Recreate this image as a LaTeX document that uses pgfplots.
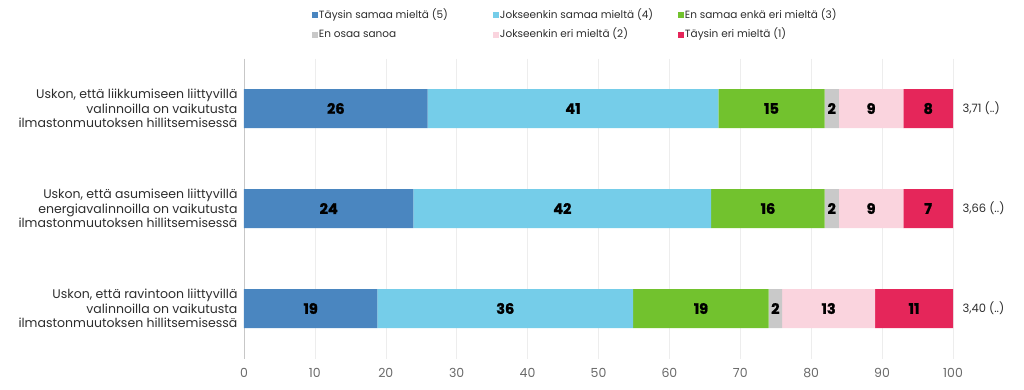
\documentclass[border=0pt]{standalone}
\usepackage{fontspec}
\setmainfont{Poppins}
\newfontfamily\heavy[FakeBold=1.2]{Poppins}
\usepackage{pgfplots}
\pgfplotsset{compat=1.18}
\usepackage{pgfplotstable}
\definecolor{cA}{RGB}{74,134,192}
\definecolor{cB}{RGB}{117,205,233}
\definecolor{cC}{RGB}{114,194,46}
\definecolor{cD}{RGB}{201,201,201}
\definecolor{cE}{RGB}{250,212,222}
\definecolor{cF}{RGB}{229,38,90}
\definecolor{txt}{RGB}{45,45,45}
\definecolor{tick}{RGB}{105,105,105}

% segment widths (share of respondents, %) and printed labels
\pgfplotstableread{
y  a     b     c     d    e     f     la lb lc ld le lf
0  25.9  41.0  15.0  2.0  9.1   7.0   26 41 15 2  9  8
1  23.9  42.0  16.0  2.0  9.1   7.0   24 42 16 2  9  7
2  18.8  36.1  19.1  1.9  13.1  11.0  19 36 19 2  13 11
}\datatable

\begin{document}
\begin{tikzpicture}
\useasboundingbox (-244pt,-30.5pt) rectangle (780pt,358.5pt);
\begin{axis}[
  at={(0pt,0pt)}, anchor=south west,
  scale only axis, width=709pt, height=300pt,
  xbar stacked, bar width=39pt,
  xmin=0, xmax=100, ymin=-0.5, ymax=2.5, y dir=reverse,
  xtick={0,10,...,100}, ytick={0,1,2},
  yticklabels={{Uskon, että liikkumiseen liittyvillä\\valinnoilla on vaikutusta\\ilmastonmuutoksen hillitsemisessä},
               {Uskon, että asumiseen liittyvillä\\energiavalinnoilla on vaikutusta\\ilmastonmuutoksen hillitsemisessä},
               {Uskon, että ravintoon liittyvillä\\valinnoilla on vaikutusta\\ilmastonmuutoksen hillitsemisessä}},
  yticklabel style={align=right, font=\fontsize{12.5}{14.4}\selectfont, text=txt, xshift=-3pt},
  xticklabel style={font=\fontsize{12.5}{14}\selectfont, text=tick, yshift=-6pt},
  /pgf/number format/assume math mode=true,
  major tick length=0pt,
  axis line style={draw=none},
  xmajorgrids, grid style={draw=black!7, line width=0.6pt},
  clip=false,
  legend columns=3,
  legend cell align=left,
  legend image code/.code={\fill[#1] (0pt,-3pt) rectangle (6pt,3pt);},
  legend style={at={(0.0959,1.165)}, anchor=north west, draw=none, fill=none,
    inner sep=0pt, outer sep=0pt, row sep=7pt,
    font=\fontsize{10.5}{12}\selectfont, text=txt,
    nodes={inner xsep=1pt, inner ysep=1pt, text height=8pt, text depth=2.5pt}},
  nodes near coords, point meta=explicit symbolic,
  every node near coord/.style={anchor=center, font=\heavy\bfseries\fontsize{14.5}{14.5}\selectfont, text=black},
]
\addplot[fill=cA, draw=none] table[x=a, y=y, meta=la] {\datatable};
\addplot[fill=cB, draw=none] table[x=b, y=y, meta=lb] {\datatable};
\addplot[fill=cC, draw=none] table[x=c, y=y, meta=lc] {\datatable};
\addplot[fill=cD, draw=none] table[x=d, y=y, meta=ld] {\datatable};
\addplot[fill=cE, draw=none] table[x=e, y=y, meta=le] {\datatable};
\addplot[fill=cF, draw=none] table[x=f, y=y, meta=lf] {\datatable};
\legend{\makebox[173pt][l]{Täysin samaa mieltä (5)},
        \makebox[177pt][l]{Jokseenkin samaa mieltä (4)},
        En samaa enkä eri mieltä (3),
        \makebox[173pt][l]{En osaa sanoa},
        \makebox[177pt][l]{Jokseenkin eri mieltä (2)},
        Täysin eri mieltä (1)}
\draw[black!22, line width=0.7pt] (axis cs:0,-0.5) -- (axis cs:0,2.5);
\node[anchor=west, font=\fontsize{11.5}{12}\selectfont, text=txt, xshift=6pt] at (axis cs:100,0) {3,71 (..)};
\node[anchor=west, font=\fontsize{11.5}{12}\selectfont, text=txt, xshift=6pt] at (axis cs:100,1) {3,66 (..)};
\node[anchor=west, font=\fontsize{11.5}{12}\selectfont, text=txt, xshift=6pt] at (axis cs:100,2) {3,40 (..)};
\end{axis}
\end{tikzpicture}
\end{document}
